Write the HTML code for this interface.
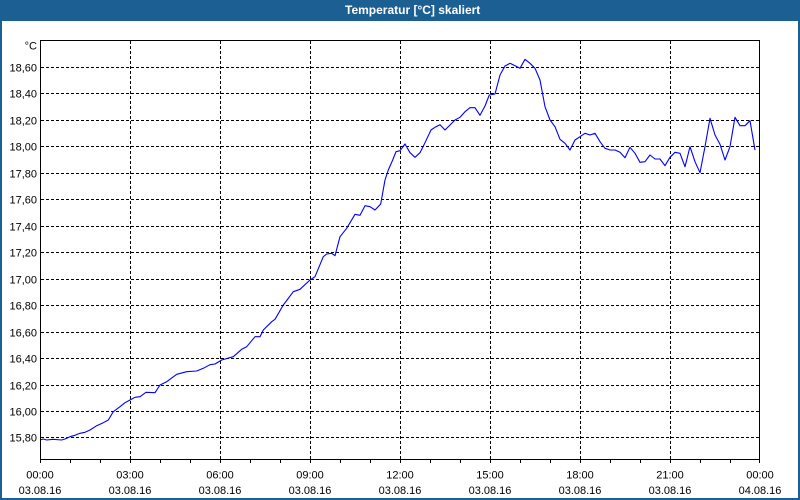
<!DOCTYPE html>
<html><head><meta charset="utf-8"><style>
html,body{margin:0;padding:0;background:#fff;}
svg{display:block;}
text{font-family:"Liberation Sans",Arial,sans-serif;font-size:11px;fill:#000;}
</style></head><body>
<svg width="800" height="500" viewBox="0 0 800 500" xmlns="http://www.w3.org/2000/svg">
<rect x="0" y="0" width="800" height="500" fill="#fff"/>
<rect x="0" y="0" width="800" height="21" fill="#1c5f93"/>
<rect x="0" y="0" width="2" height="500" fill="#1c5f93"/>
<rect x="798" y="0" width="2" height="500" fill="#1c5f93"/>
<rect x="0" y="498" width="800" height="2" fill="#1c5f93"/>
<text x="345" y="14" style="font-weight:bold;font-size:12px;fill:#fff">Temperatur [°C] skaliert</text>

<g stroke="#000" stroke-width="1" stroke-dasharray="3,2" fill="none" shape-rendering="crispEdges">
<line x1="41" y1="67.5" x2="760" y2="67.5"/>
<line x1="41" y1="93.5" x2="760" y2="93.5"/>
<line x1="41" y1="120.5" x2="760" y2="120.5"/>
<line x1="41" y1="146.5" x2="760" y2="146.5"/>
<line x1="41" y1="173.5" x2="760" y2="173.5"/>
<line x1="41" y1="199.5" x2="760" y2="199.5"/>
<line x1="41" y1="226.5" x2="760" y2="226.5"/>
<line x1="41" y1="252.5" x2="760" y2="252.5"/>
<line x1="41" y1="279.5" x2="760" y2="279.5"/>
<line x1="41" y1="305.5" x2="760" y2="305.5"/>
<line x1="41" y1="332.5" x2="760" y2="332.5"/>
<line x1="41" y1="358.5" x2="760" y2="358.5"/>
<line x1="41" y1="385.5" x2="760" y2="385.5"/>
<line x1="41" y1="411.5" x2="760" y2="411.5"/>
<line x1="41" y1="437.5" x2="760" y2="437.5"/>
<line x1="130.5" y1="41" x2="130.5" y2="460"/>
<line x1="220.5" y1="41" x2="220.5" y2="460"/>
<line x1="310.5" y1="41" x2="310.5" y2="460"/>
<line x1="400.5" y1="41" x2="400.5" y2="460"/>
<line x1="490.5" y1="41" x2="490.5" y2="460"/>
<line x1="580.5" y1="41" x2="580.5" y2="460"/>
<line x1="670.5" y1="41" x2="670.5" y2="460"/>
</g>

<polyline fill="none" stroke="#0000ff" stroke-width="1.1" stroke-linejoin="round" points="
40,440 43.3,439 46.7,440 53,439.3 61.7,440 65,439 70,436.7 75,435.3 80,433.3 85,432.3 90,430 96.7,425.7 103.3,422.7 108.3,420 113.3,411.7 120,406.7 125,402.7 130,400 135,397.3 140,396.7 146,392.3 155,392.7 160,385 166.7,381.7 176.7,374.3 186.7,371.7 196.7,371 203.3,368.3 210,364.7 215,364 221.7,360
233.3,356.7 241.7,349.3 246.7,346.7 255,336.7 260,336.7 263.3,330 271.7,321.7 275,319.3 283.3,305 293.3,291.7 300,289.3 310,280 315,276.7 323.3,256.7 326.7,254 331.7,253.3 335,255.7 340,236.7 346.7,228.3 355,214.3 360,215.3 365,205.7 370,206.7 375,210 380.7,204 385,180 388.3,170 392.7,160 396,151.7 400,150.7
405,144 410,152.7 415,157.3 420,152.7 425,142.7 431,130 435,127.3 440,124.7 445,130 450,125 455,120 460,117.3 465,111.7 470,107.7 475,107.7 480,115.3 485,106 489.3,95 495,94 500,75 505,66 510,63.3 515,65.7 520,68.3 525,59.3 530,63.3 535,68.3 540,80 545,106.7 550,120 555,126.7 560,139.3 565,143.3 570,150 575,140
580,136.7 585,133.3 590,135 595,133.3 600,141.7 605,148.3 610,150 615,150 620,152.3 625,157.7 630,147.3 635,153.3 640,162.3 645,161.7 650,155 655,159 660,159 665,165.7 670,157.3 675,152.3 680,153.3 685,166.7 690,146.7 695,161.7 700,172.7 705,146.7 710,118.3 715,135 720,144.3 725,160 730,146.7 735,117.3 740,125.7 745,125.7 750,120.7 755,150"/>

<g stroke="#000" stroke-width="1" fill="none" shape-rendering="crispEdges">
<rect x="40.5" y="40.5" width="719" height="419"/>
<path d="M40.5 460v3M70.5 460v3M100.5 460v3M130.5 460v3M160.5 460v3M190.5 460v3M220.5 460v3M250.5 460v3M280.5 460v3M310.5 460v3M340.5 460v3M370.5 460v3M400.5 460v3M430.5 460v3M460.5 460v3M490.5 460v3M520.5 460v3M550.5 460v3M580.5 460v3M610.5 460v3M640.5 460v3M670.5 460v3M700.5 460v3M730.5 460v3M759.5 460v3"/>
</g>

<g text-anchor="end">
<text x="37" y="49.5">°C</text>
<text x="37" y="71.5">18,60</text>
<text x="37" y="97.5">18,40</text>
<text x="37" y="124.5">18,20</text>
<text x="37" y="150.5">18,00</text>
<text x="37" y="177.5">17,80</text>
<text x="37" y="203.5">17,60</text>
<text x="37" y="230.5">17,40</text>
<text x="37" y="256.5">17,20</text>
<text x="37" y="283.5">17,00</text>
<text x="37" y="309.5">16,80</text>
<text x="37" y="336.5">16,60</text>
<text x="37" y="362.5">16,40</text>
<text x="37" y="389.5">16,20</text>
<text x="37" y="415.5">16,00</text>
<text x="37" y="441.5">15,80</text>
</g>

<g text-anchor="middle">
<text x="40" y="478.5">00:00</text><text x="40" y="494">03.08.16</text>
<text x="130" y="478.5">03:00</text><text x="130" y="494">03.08.16</text>
<text x="220" y="478.5">06:00</text><text x="220" y="494">03.08.16</text>
<text x="310" y="478.5">09:00</text><text x="310" y="494">03.08.16</text>
<text x="400" y="478.5">12:00</text><text x="400" y="494">03.08.16</text>
<text x="490" y="478.5">15:00</text><text x="490" y="494">03.08.16</text>
<text x="580" y="478.5">18:00</text><text x="580" y="494">03.08.16</text>
<text x="670" y="478.5">21:00</text><text x="670" y="494">03.08.16</text>
<text x="760" y="478.5">00:00</text><text x="760" y="494">04.08.16</text>
</g>
</svg>
</body></html>
